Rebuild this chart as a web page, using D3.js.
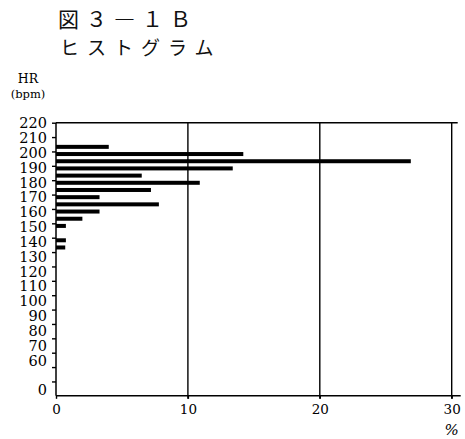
<!DOCTYPE html>
<html>
<head>
<meta charset="utf-8">
<script src="https://cdn.jsdelivr.net/npm/d3@7"></script>
<style>
  html, body { margin: 0; padding: 0; background: #fff; }
  svg { display: block; }
</style>
</head>
<body>
<svg id="chart" width="465" height="439"></svg>
<script>
// Heart-rate histogram: share of time (%) spent in each 5 bpm band.
const binStarts = [200, 195, 190, 185, 180, 175, 170, 165, 160, 155, 150, 145, 140, 135, 130];
const percents  = [4.0, 14.2, 26.9, 13.4, 6.5, 10.9, 7.2, 3.3, 7.8, 3.3, 2.0, 0.75, 0, 0.75, 0.7];
const binWidth = 5;

// Broken HR axis: 220 down to 60, then a gap to the "0" mark.
const yTickValues = [220, 210, 200, 190, 180, 170, 160, 150, 140, 130, 120, 110, 100, 90, 80, 70, 60, 50, 40];
const yTickLabels = ["220", "210", "200", "190", "180", "170", "160", "150", "140", "130", "120", "110", "100", "90", "80", "70", "60", "", "0"];
const xTickValues = [0, 10, 20, 30];
const xTickLabels = ["0", "10", "20", "30"];

const svg = d3.select("#chart");

const x = d3.scaleLinear().domain([0, 30]).range([56, 451.7]);
const y = d3.scaleLinear().domain([220, 60]).range([122.7, 352.7]);
// the printed labels sit on a slightly wider pitch than the ticks
const yLabel = d3.scaleLinear().domain([220, 60]).range([122.7, 360]);
const yBase = y(30);

// titles
svg.append("text")
  .attr("x", 58).attr("y", 27)
  .attr("font-family", "'Noto Sans CJK JP'")
  .attr("font-size", 21)
  .attr("letter-spacing", 7)
  .attr("fill", "#111")
  .text("図３―１Ｂ");
svg.append("text")
  .attr("x", 60).attr("y", 55)
  .attr("font-family", "'Noto Sans CJK JP'")
  .attr("font-size", 19)
  .attr("letter-spacing", 8)
  .attr("fill", "#111")
  .text("ヒストグラム");

// axis title
svg.append("text")
  .attr("x", 28).attr("y", 83)
  .attr("text-anchor", "middle")
  .attr("font-family", "'DejaVu Serif'")
  .attr("font-size", 12.5)
  .text("HR");
svg.append("text")
  .attr("x", 28).attr("y", 97.5)
  .attr("text-anchor", "middle")
  .attr("font-family", "'DejaVu Serif'")
  .attr("font-size", 11.5)
  .text("(bpm)");

// frame: top rule and vertical grid lines
svg.append("line")
  .attr("x1", x(0)).attr("x2", x(30) + 6)
  .attr("y1", y(220)).attr("y2", y(220))
  .attr("stroke", "#000").attr("stroke-width", 1.4);
svg.selectAll("line.grid")
  .data(xTickValues.slice(1))
  .join("line")
  .attr("class", "grid")
  .attr("x1", d => x(d)).attr("x2", d => x(d))
  .attr("y1", y(220)).attr("y2", yBase + 3)
  .attr("stroke", "#000").attr("stroke-width", 1.4);

// bars
svg.selectAll("rect.bar")
  .data(binStarts.map((b, i) => ({ b, p: percents[i] })))
  .join("rect")
  .attr("class", "bar")
  .attr("x", x(0))
  .attr("y", d => y(d.b + binWidth / 2) - 3)
  .attr("width", d => x(d.p) - x(0))
  .attr("height", 4)
  .attr("fill", "#000");

// y axis
const yAxis = svg.append("g")
  .attr("transform", `translate(${x(0)},0)`)
  .call(d3.axisLeft(y)
    .tickValues(yTickValues)
    .tickSize(4)
    .tickPadding(5)
    .tickFormat((d, i) => yTickLabels[i]));
yAxis.select(".domain").remove();
yAxis.selectAll(".tick line").attr("stroke-width", 1.4);
yAxis.selectAll(".tick text")
  .attr("font-family", "'DejaVu Serif'")
  .attr("font-size", 14.5)
  .attr("fill", "#000")
  .attr("dy", d => (yLabel(d) - y(d)) + 5);
yAxis.append("line")
  .attr("x1", 0).attr("x2", 0)
  .attr("y1", y(220)).attr("y2", yBase)
  .attr("stroke", "#000").attr("stroke-width", 1.5);

// x axis
const xAxis = svg.append("g")
  .attr("transform", `translate(0,${yBase})`)
  .call(d3.axisBottom(x)
    .tickValues(xTickValues)
    .tickSize(3)
    .tickPadding(6)
    .tickFormat((d, i) => xTickLabels[i]));
xAxis.select(".domain").remove();
xAxis.selectAll(".tick line").attr("stroke-width", 1.4);
xAxis.selectAll(".tick text")
  .attr("font-family", "'DejaVu Serif'")
  .attr("font-size", 13.5)
  .attr("fill", "#000");
xAxis.append("line")
  .attr("x1", x(0)).attr("x2", x(30) + 9)
  .attr("y1", 0).attr("y2", 0)
  .attr("stroke", "#000").attr("stroke-width", 1.5);
xAxis.append("text")
  .attr("x", x(30)).attr("y", 39)
  .attr("text-anchor", "middle")
  .attr("font-family", "'DejaVu Serif'")
  .attr("font-size", 15)
  .attr("font-style", "italic")
  .attr("fill", "#000")
  .text("%");
</script>
</body>
</html>
